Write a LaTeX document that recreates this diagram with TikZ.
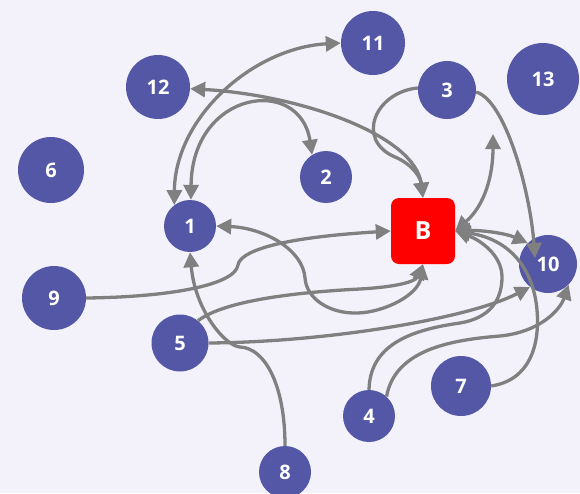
\documentclass[tikz,border=0pt]{standalone}
\usepackage{fontspec}
\setmainfont{Open Sans}
\usetikzlibrary{arrows.meta}
\definecolor{bgcol}{HTML}{F3F2FB}
\definecolor{nodecol}{HTML}{5457A6}
\definecolor{edgecol}{HTML}{808080}
\tikzset{
  vert/.style={circle, fill=nodecol, inner sep=0pt, text=white,
    font=\fontsize{20}{20}\selectfont\bfseries},
  hub/.style={rectangle, rounded corners=8pt, fill=red, inner sep=0pt,
    minimum width=64pt, minimum height=66pt, text=white,
    font=\fontsize{25}{25}\selectfont\bfseries},
  tip/.style={Triangle[length=15pt,width=15pt]},
  link/.style={draw=edgecol, line width=3.3pt, arrows={-Triangle[length=15pt,width=15pt]}},
  dlink/.style={draw=edgecol, line width=3.3pt,
    arrows={Triangle[length=15pt,width=15pt]-Triangle[length=15pt,width=15pt]}},
}
\begin{document}
\begin{tikzpicture}[x=1pt, y=-1pt]
\fill[bgcol] (0,0) rectangle (580,493);
\useasboundingbox (0,0) rectangle (580,493);

% vertices
\node[vert, minimum size=64pt] (n11) at (373,43) {11};
\node[vert, minimum size=64pt] (n12) at (158,87) {12};
\node[vert, minimum size=58pt] (n3)  at (447,90) {3};
\node[vert, minimum size=72pt] (n13) at (543,79) {13};
\node[vert, minimum size=66pt] (n6)  at (51,170) {6};
\node[vert, minimum size=52pt] (n2)  at (326,177) {2};
\node[vert, minimum size=52pt] (n1)  at (190,226) {1};
\node[vert, minimum size=58pt] (n10) at (548,264) {10};
\node[vert, minimum size=64pt] (n9)  at (54,298) {9};
\node[vert, minimum size=57pt] (n5)  at (180,343) {5};
\node[vert, minimum size=60pt] (n7)  at (461,386) {7};
\node[vert, minimum size=52pt] (n4)  at (369,416) {4};
\node[vert, minimum size=52pt] (n8)  at (285,472) {8};
\node[hub] (B) at (423,231) {B};
\coordinate (free) at (493,134);

% connectors
\path[dlink] (n1.127) .. controls (175,118) and (252,48) .. (n11.west);
\path[dlink] (n1.88) .. controls (192,90) and (300,75) .. (n2.122);
\path[dlink] (n12.-3) .. controls (300,95) and (415,135) .. (B.north);
\path[link] (n3.176) .. controls (375,92) and (355,140) .. (395,157)
  .. controls (415,165.5) and (421,180) .. (B.north);
\path[link] (n3.-4) .. controls (505,100) and (530,190) .. (535,258);
\path[dlink] (B.east) .. controls (485,205) and (493,175) .. (free);
\path[dlink] (B.east) .. controls (480,230) and (505,233) .. (n10.134);
\path[link] (n9.east) .. controls (170,297) and (235,285) .. (238,265)
  .. controls (240,252) and (275,238) .. (B.west);
\path[dlink] (n1.east) .. controls (265,228) and (303,250) .. (305,278)
  .. controls (306.5,299) and (330,314) .. (358,313)
  .. controls (385,312) and (418,295) .. (B.south);
\path[link] (n5.51) .. controls (225,300) and (300,292) .. (360,289)
  .. controls (395,287) and (415,282) .. (B.south);
\path[link] (n5.east) .. controls (330,342) and (470,318) .. (n10.232);
\path[link] (n8.north) .. controls (285,385) and (265,348) .. (240,347)
  .. controls (225,346) and (195,310) .. (n1.south);
\path[link] (n4.north) .. controls (370,345) and (410,330) .. (460,323)
  .. controls (490,318) and (502,300) .. (502,277)
  .. controls (502,255) and (480,240) .. (B.east);
\path[link] (n4.48) .. controls (395,350) and (450,340) .. (500,336)
  .. controls (540,332) and (560,310) .. (n10.-45);
\path[link] (n7.east) .. controls (530,380) and (540,345) .. (537,310)
  .. controls (534,275) and (515,240) .. (B.east);
\end{tikzpicture}
\end{document}
